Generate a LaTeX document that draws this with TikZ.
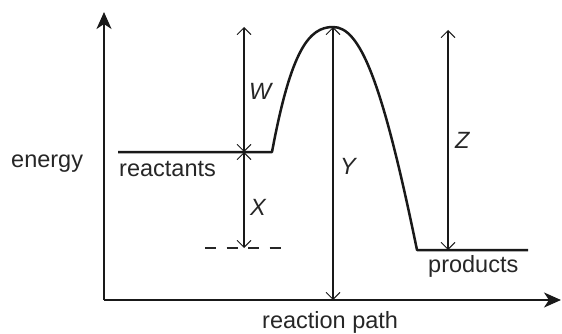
\documentclass[tikz,border=0pt]{standalone}
\usepackage{fontspec}
\setmainfont{Liberation Sans}
\usetikzlibrary{arrows.meta}
\begin{document}
\begin{tikzpicture}[x=1pt,y=-1pt,
  heavy/.style={line width=2.5pt,black!90},
  dimarrow/.style={line width=1.4pt,black!90,{Straight Barb[length=7pt,width=14pt,line width=0.9pt]}-{Straight Barb[length=7pt,width=14pt,line width=0.9pt]}},
  axis/.style={line width=2.3pt,black!90,-{Stealth[length=17pt,width=15pt,inset=5pt]}},
  lbl/.style={anchor=base west,inner sep=0pt,font=\fontsize{23.5}{27}\selectfont,text=black!85},
  ilbl/.style={lbl,font=\fontsize{23.5}{27}\selectfont\itshape}]
\useasboundingbox (0,0) rectangle (562,334);
% axes
\coordinate (O) at (104,300);
\coordinate (Ytop) at (104,12);
\coordinate (Xend) at (561,300);
\draw[axis] (O) -- (Ytop);
\draw[axis] (O) -- (Xend);
% profile
\coordinate (R0) at (118,152);
\coordinate (R1) at (272,152);
\coordinate (P) at (333,27);
\coordinate (Q0) at (417,250);
\coordinate (Q1) at (528,250);
\draw[heavy,line join=round] (R0) -- (R1) .. controls (291,50) and (309,27) .. (P) .. controls (360,27) and (382,80) .. (Q0) -- (Q1);
% dashed level
\coordinate (D0) at (205,248);
\coordinate (D1) at (282,248);
\draw[line width=1.1pt,black!85,dash pattern=on 11pt off 10.5pt] (D0) -- (D1);
% dimension arrows
\coordinate (Wt) at (244,27);
\coordinate (Wb) at (244,152);
\coordinate (Xb) at (244,248);
\coordinate (Yt) at (333,27);
\coordinate (Yb) at (333,300);
\coordinate (Zt) at (448,30);
\coordinate (Zb) at (448,250);
\draw[dimarrow] (Wt) -- (Wb);
\draw[dimarrow] (Wb) -- (Xb);
\draw[dimarrow] (Yt) -- (Yb);
\draw[dimarrow] (Zt) -- (Zb);
% labels
\node[lbl] (energy) at (11,167) {energy};
\node[lbl] (reactants) at (119,176) {reactants};
\node[lbl] (products) at (428,272) {products};
\node[lbl] (path) at (262,328) {reaction path};
\node[ilbl] (W) at (249,100) {W};
\node[ilbl] (X) at (250,215) {X};
\node[ilbl] (Y) at (340,175) {Y};
\node[ilbl] (Z) at (455,148) {Z};
\end{tikzpicture}
\end{document}
